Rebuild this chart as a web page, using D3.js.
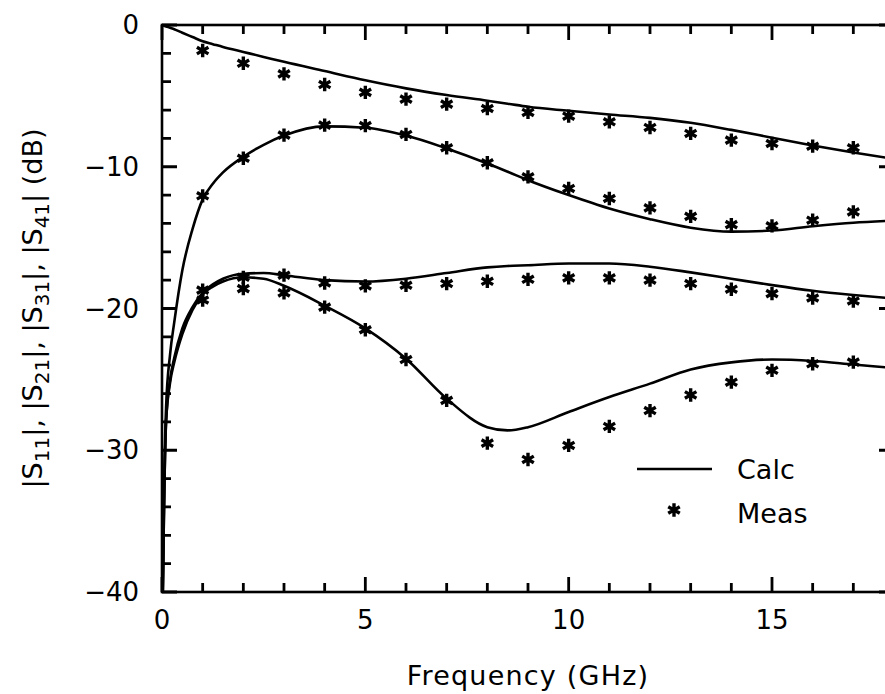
<!DOCTYPE html>
<html>
<head>
<meta charset="utf-8">
<script src="https://cdn.jsdelivr.net/npm/d3@7"></script>
<style>
  body { margin: 0; background: #fff; }
  text { font-family: "DejaVu Sans", sans-serif; fill: #000; }
</style>
</head>
<body>
<div id="chart"></div>
<script>
// ---- data ----
const freqCalc = [0.02, 0.05, 0.1, 0.2, 0.3, 0.5, 0.75, 1, 1.25, 1.5, 2, 2.5, 3, 4, 5, 6, 7, 8, 8.5, 9, 10, 11, 12, 13, 14, 15, 16, 17, 18];
const s21Calc = [-0.02, -0.05, -0.1, -0.2, -0.3, -0.55, -0.85, -1.15, -1.35, -1.55, -1.9, -2.25, -2.6, -3.25, -3.9, -4.47, -4.94, -5.34, -5.55, -5.77, -6.05, -6.31, -6.55, -6.9, -7.4, -7.95, -8.5, -9.0, -9.45];
const s11Calc = [-40, -33, -27, -23.2, -21, -17.3, -14.4, -12.3, -11.2, -10.4, -9.3, -8.45, -7.8, -7.15, -7.25, -7.8, -8.71, -9.77, -10.35, -10.95, -12.0, -12.95, -13.7, -14.3, -14.58, -14.5, -14.2, -13.95, -13.8];
const s31Calc = [-40, -34, -28, -25, -23.5, -21.4, -19.9, -18.9, -18.3, -17.9, -17.55, -17.5, -17.65, -18.0, -18.1, -17.9, -17.5, -17.1, -17.0, -16.95, -16.83, -16.83, -17.05, -17.45, -17.9, -18.35, -18.75, -19.05, -19.3];
const s41Calc = [-40, -34, -28, -25.2, -23.8, -21.8, -20.1, -19.0, -18.45, -18.1, -17.8, -17.9, -18.4, -19.8, -21.4, -23.54, -26.36, -28.37, -28.6, -28.37, -27.3, -26.25, -25.3, -24.3, -23.8, -23.6, -23.7, -23.95, -24.2];

const freqMeas = [1, 2, 3, 4, 5, 6, 7, 8, 9, 10, 11, 12, 13, 14, 15, 16, 17];
const s21Meas = [-1.8, -2.7, -3.45, -4.2, -4.75, -5.23, -5.58, -5.89, -6.17, -6.43, -6.83, -7.23, -7.65, -8.12, -8.36, -8.55, -8.66];
const s11Meas = [-12.05, -9.4, -7.77, -7.06, -7.1, -7.72, -8.66, -9.72, -10.71, -11.53, -12.24, -12.9, -13.5, -14.08, -14.17, -13.77, -13.18];
const s31Meas = [-18.7, -17.8, -17.65, -18.2, -18.4, -18.36, -18.24, -18.08, -17.94, -17.84, -17.84, -18.0, -18.24, -18.64, -18.95, -19.26, -19.47];
const s41Meas = [-19.4, -18.6, -18.9, -19.9, -21.5, -23.6, -26.48, -29.5, -30.65, -29.66, -28.32, -27.2, -26.1, -25.2, -24.36, -23.9, -23.78];

const xTicks = [0, 5, 10, 15];
const xMinorTicks = d3.range(0, 19, 1);
const yTicks = [0, -10, -20, -30, -40];
const yMinorTicks = d3.range(-40, 1, 2);
const legendLabels = ["Calc", "Meas"];

// ---- layout ----
const width = 885, height = 694;
const margin = {left: 162, right: 894, top: 25, bottom: 592};

const svg = d3.select("#chart").append("svg")
    .attr("width", width)
    .attr("height", height);

svg.append("rect").attr("width", width).attr("height", height).attr("fill", "#fff");

const x = d3.scaleLinear().domain([0, 18]).range([margin.left, margin.right]);
const y = d3.scaleLinear().domain([-40, 0]).range([margin.bottom, margin.top]);

const fontSize = 26;
const majorLen = 15, minorLen = 9;

// frame
svg.append("rect")
    .attr("x", margin.left).attr("y", margin.top)
    .attr("width", margin.right - margin.left)
    .attr("height", margin.bottom - margin.top)
    .attr("fill", "none")
    .attr("stroke", "#000")
    .attr("stroke-width", 2.6);

// inward ticks, built as one path from the scales
const isMajorX = d => xTicks.includes(d);
const isMajorY = d => yTicks.includes(d);
const tickPath = d3.path();
xMinorTicks.forEach(d => {
    const len = isMajorX(d) ? majorLen : minorLen;
    tickPath.moveTo(x(d), margin.bottom); tickPath.lineTo(x(d), margin.bottom - len);
    tickPath.moveTo(x(d), margin.top); tickPath.lineTo(x(d), margin.top + len);
});
yMinorTicks.forEach(d => {
    const len = isMajorY(d) ? majorLen : minorLen;
    tickPath.moveTo(margin.left, y(d)); tickPath.lineTo(margin.left + len, y(d));
    tickPath.moveTo(margin.right, y(d)); tickPath.lineTo(margin.right - len, y(d));
});
svg.append("path")
    .attr("class", "ticks")
    .attr("d", tickPath.toString())
    .attr("fill", "none")
    .attr("stroke", "#000")
    .attr("stroke-width", 2.8);

// tick labels
svg.append("g").selectAll("text")
    .data(xTicks)
    .join("text")
    .attr("x", d => x(d))
    .attr("y", margin.bottom + 37)
    .attr("text-anchor", "middle")
    .style("font-size", fontSize + "px")
    .text(d3.format("d"));

svg.append("g").selectAll("text")
    .data(yTicks)
    .join("text")
    .attr("x", margin.left - 23)
    .attr("y", d => y(d))
    .attr("dy", "0.35em")
    .attr("text-anchor", "end")
    .style("font-size", fontSize + "px")
    .text(d3.format("d"));

// ---- calculated curves ----
const line = d3.line()
    .x(d => x(d[0]))
    .y(d => y(d[1]))
    .curve(d3.curveMonotoneX);

const calcSeries = [s21Calc, s11Calc, s31Calc, s41Calc];
calcSeries.forEach(vals => {
    const pts = freqCalc.map((f, i) => [f, vals[i]]);
    if (vals === s21Calc) pts.unshift([0, 0]);
    svg.append("path")
        .datum(pts)
        .attr("d", line)
        .attr("fill", "none")
        .attr("stroke", "#000")
        .attr("stroke-width", 2.6);
});

// ---- measured points ----
// six-armed asterisk (same geometry as d3.symbolAsterisk)
const asterisk = d3.symbolAsterisk || {
    draw(ctx, size) {
        const r = Math.sqrt(size + Math.min(size / 28, 0.75)) * 0.59436;
        const t = r / 2, u = t * Math.sqrt(3);
        ctx.moveTo(0, r); ctx.lineTo(0, -r);
        ctx.moveTo(-u, -t); ctx.lineTo(u, t);
        ctx.moveTo(-u, t); ctx.lineTo(u, -t);
    }
};
const star = d3.symbol().type(asterisk).size(125);
const measSeries = [s21Meas, s11Meas, s31Meas, s41Meas];
measSeries.forEach(vals => {
    svg.append("g").selectAll("path")
        .data(freqMeas.map((f, i) => [f, vals[i]]))
        .join("path")
        .attr("transform", d => `translate(${x(d[0])},${y(d[1])})`)
        .attr("d", star)
        .attr("fill", "none")
        .attr("stroke", "#000")
        .attr("stroke-width", 3.4);
});

// ---- legend ----
svg.append("line")
    .attr("x1", 637).attr("x2", 712)
    .attr("y1", 469).attr("y2", 469)
    .attr("stroke", "#000").attr("stroke-width", 2.6);
svg.append("path")
    .attr("transform", "translate(674,510)")
    .attr("d", star)
    .attr("fill", "none").attr("stroke", "#000").attr("stroke-width", 3.4);
svg.selectAll(".legend-label")
    .data(legendLabels)
    .join("text")
    .attr("class", "legend-label")
    .attr("x", 737)
    .attr("y", (d, i) => 479 + i * 44)
    .style("font-size", "27px")
    .text(d => d);

// ---- axis titles ----
svg.append("text")
    .attr("x", (margin.left + margin.right) / 2)
    .attr("y", 685)
    .attr("text-anchor", "middle")
    .style("font-size", "27px")
    .style("letter-spacing", "1.2px")
    .text("Frequency (GHz)");

const yTitle = svg.append("text")
    .attr("transform", `translate(42,${(margin.top + margin.bottom) / 2}) rotate(-90)`)
    .attr("text-anchor", "middle")
    .style("font-size", "27px");

const sParams = ["11", "21", "31", "41"];
sParams.forEach((s, i) => {
    yTitle.append("tspan").text((i ? ", " : "") + "|S");
    yTitle.append("tspan").attr("dy", 7).style("font-size", "20px").text(s);
    yTitle.append("tspan").attr("dy", -7).text("|");
});
yTitle.append("tspan").text(" (dB)");
</script>
</body>
</html>
